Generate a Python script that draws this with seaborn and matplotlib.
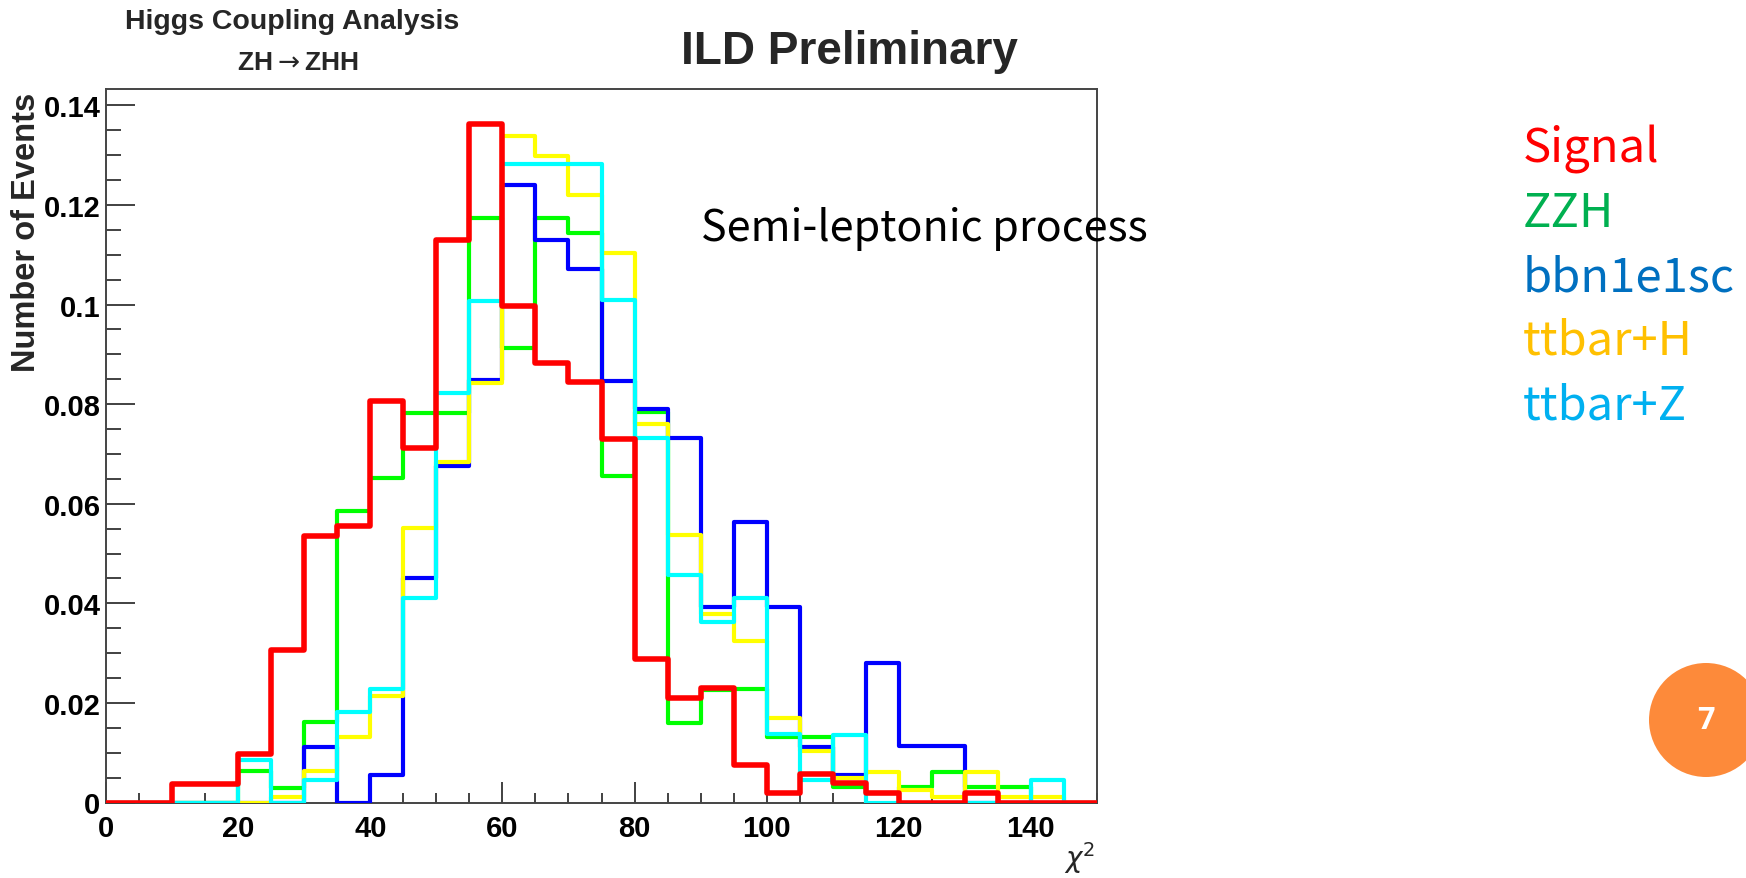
import numpy as np
import pandas as pd
import matplotlib
matplotlib.use("Agg")
import matplotlib.pyplot as plt
from matplotlib.ticker import MultipleLocator, FuncFormatter
from matplotlib.patches import Ellipse
import seaborn as sns

# chi2 binning (width 5, 0..150)
bin_edges = [0, 5, 10, 15, 20, 25, 30, 35, 40, 45, 50, 55, 60, 65, 70, 75,
             80, 85, 90, 95, 100, 105, 110, 115, 120, 125, 130, 135, 140, 145, 150]

# normalised event fractions per bin
signal = [0, 0, 0.0038, 0.0038, 0.0097, 0.0307, 0.0536, 0.0555, 0.0806, 0.0711,
          0.1130, 0.1362, 0.0998, 0.0883, 0.0844, 0.0730, 0.0288, 0.0209, 0.0229, 0.0076,
          0.0020, 0.0057, 0.0039, 0.0019, 0, 0, 0.0019, 0, 0, 0]
zzh = [0, 0, 0, 0, 0.0063, 0.0030, 0.0161, 0.0585, 0.0651, 0.0783,
       0.0783, 0.1174, 0.0913, 0.1174, 0.1143, 0.0655, 0.0784, 0.0159, 0.0225, 0.0227,
       0.0131, 0.0131, 0.0031, 0.0019, 0.0032, 0.0062, 0.0032, 0.0032, 0, 0]
bbn1e1sc = [0, 0, 0, 0, 0, 0, 0.0112, 0, 0.0055, 0.0450,
            0.0675, 0.0848, 0.1241, 0.1129, 0.1071, 0.0847, 0.0790, 0.0733, 0.0393, 0.0564,
            0.0393, 0.0112, 0.0056, 0.0281, 0.0114, 0.0114, 0, 0, 0, 0]
ttbar_h = [0, 0, 0, 0, 0, 0.0012, 0.0064, 0.0131, 0.0213, 0.0551,
           0.0684, 0.0842, 0.1338, 0.1298, 0.1221, 0.1104, 0.0760, 0.0537, 0.0379, 0.0325,
           0.0169, 0.0103, 0.0049, 0.0062, 0.0025, 0.0012, 0.0062, 0.0012, 0.0012, 0]
ttbar_z = [0, 0, 0, 0, 0.0086, 0, 0.0045, 0.0182, 0.0228, 0.0410,
           0.0823, 0.1007, 0.1283, 0.1283, 0.1283, 0.1009, 0.0733, 0.0457, 0.0363, 0.0410,
           0.0138, 0.0045, 0.0136, 0, 0, 0, 0, 0, 0.0045, 0]

sample_names = ["Signal", "ZZH", "bbn1e1sc", "ttbar+H", "ttbar+Z"]
x_ticks = [0, 20, 40, 60, 80, 100, 120, 140]
y_ticks = [0, 0.02, 0.04, 0.06, 0.08, 0.10, 0.12, 0.14]

centers = [0.5 * (a + b) for a, b in zip(bin_edges[:-1], bin_edges[1:])]
frames = []
for name, vals in zip(sample_names, [signal, zzh, bbn1e1sc, ttbar_h, ttbar_z]):
    frames.append(pd.DataFrame({"chi2": centers, "frac": vals, "sample": name}))
df = pd.concat(frames, ignore_index=True)

sns.set_theme(style="ticks")
plt.rcParams["font.family"] = ["Liberation Sans", "DejaVu Sans"]

W, H = 1746, 879
fig = plt.figure(figsize=(W / 100, H / 100), dpi=100)
ax = fig.add_axes([106 / W, 1 - 803.5 / H, (1097 - 106) / W, (803.5 - 90) / H])

line_style = {
    "ZZH": ("#00ff00", 3.0, 2),
    "bbn1e1sc": ("#0000ff", 3.0, 3),
    "ttbar+H": ("#ffff00", 3.0, 4),
    "ttbar+Z": ("#00ffff", 3.0, 5),
    "Signal": ("#ff0000", 4.0, 6),
}
for name in ["ZZH", "bbn1e1sc", "ttbar+H", "ttbar+Z", "Signal"]:
    color, lw, z = line_style[name]
    sub = df[df["sample"] == name].reset_index(drop=True)
    sns.histplot(data=sub, x="chi2", weights="frac", bins=list(bin_edges), element="step",
                 fill=False, color=color, linewidth=lw, ax=ax, zorder=z)

ax.set_xlim(0, 150)
ax.set_ylim(0, 0.1433)
ax.set_xlabel("")
ax.set_ylabel("")
ax.set_xticks(x_ticks)
ax.set_yticks(y_ticks)
ax.xaxis.set_minor_locator(MultipleLocator(5))
ax.yaxis.set_minor_locator(MultipleLocator(0.005))
ax.yaxis.set_major_formatter(FuncFormatter(lambda v, p: f"{v:g}"))
ax.tick_params(axis="both", which="both", direction="in", color="#333333", width=1.3,
               labelsize=21, labelcolor="black")
ax.tick_params(axis="y", which="major", length=21, pad=4)
ax.tick_params(axis="y", which="minor", length=11)
ax.tick_params(axis="x", which="major", length=15, pad=8)
ax.tick_params(axis="x", which="minor", length=7.5)
for lab in ax.get_xticklabels() + ax.get_yticklabels():
    lab.set_fontweight("bold")
for side in ["left", "bottom", "top", "right"]:
    ax.spines[side].set_visible(True)
    ax.spines[side].set_color("#444444")
    ax.spines[side].set_linewidth(1.4)

# headers
fig.text(292 / W, 1 - 22 / H, "Higgs Coupling Analysis", ha="center", va="center",
         fontsize=20.5, fontweight="bold")
fig.text(298 / W, 1 - 63 / H, r"ZH$\rightarrow$ZHH", ha="center", va="center",
         fontsize=19, fontweight="bold")
fig.text(849 / W, 1 - 52 / H, "ILD Preliminary", ha="center", va="center",
         fontsize=33, fontweight="bold")
fig.text(27 / W, 1 - 232 / H, "Number of Events", rotation=90, ha="center", va="center",
         fontsize=23.5, fontweight="bold")
fig.text(1080 / W, 1 - 858 / H, r"$\chi^2$", ha="center", va="center", fontsize=20)

jp = ["Noto Sans CJK JP", "DejaVu Sans"]
fig.text(701 / W, 1 - 229 / H, "Semi-leptonic process", ha="left", va="center",
         fontsize=31, family=jp, color="black")

# sample key
key_colors = ["#ff0000", "#00b050", "#0070c0", "#ffc000", "#00b0f0"]
key_baseline = [163, 227, 291, 355, 419]
for name, c, yy in zip(sample_names, key_colors, key_baseline):
    fig.text(1523 / W, 1 - yy / H, name, ha="left", va="baseline", fontsize=34,
             family=jp, color=c)

# page badge
fig.add_artist(Ellipse((1706 / W, 1 - 721 / H), 2 * 57 / W, 2 * 57 / H,
                       transform=fig.transFigure, facecolor="#fd8a3a",
                       edgecolor="none"))
fig.text(1706 / W, 1 - 721 / H, "7", ha="center", va="center", fontsize=22,
         fontweight="bold", color="white", family=["Open Sans", "DejaVu Sans"])

fig.savefig("out.png", dpi=100, facecolor="white")
